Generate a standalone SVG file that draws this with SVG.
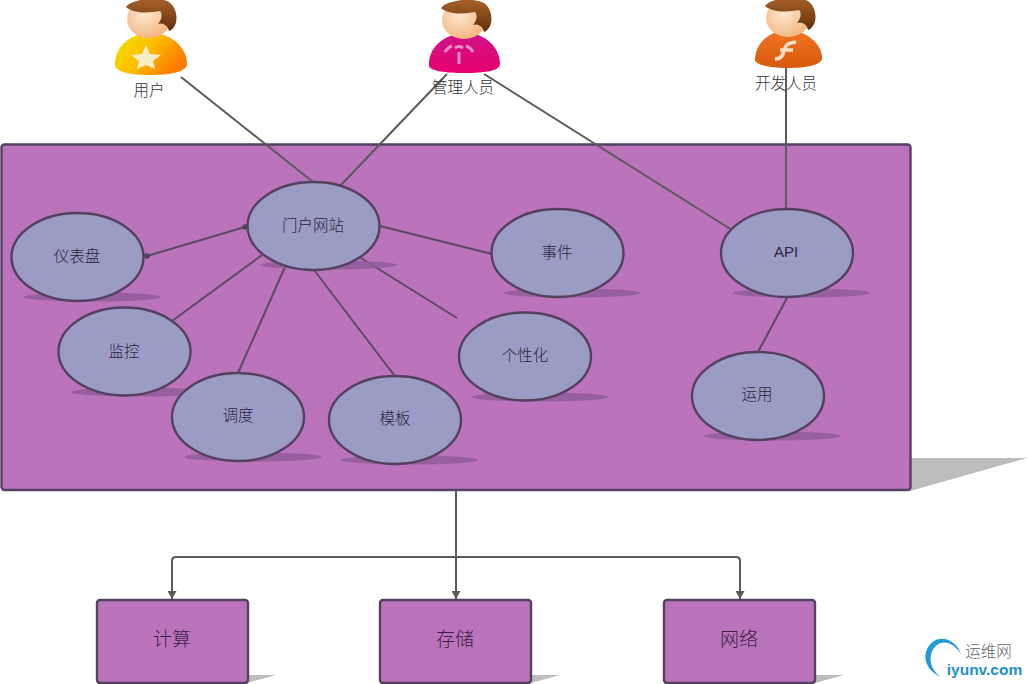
<svg xmlns="http://www.w3.org/2000/svg" xmlns:xlink="http://www.w3.org/1999/xlink" width="1028" height="684" viewBox="0 0 1028 684">
<style>
text{font-family:"Noto Sans CJK SC","Liberation Sans",sans-serif;text-anchor:middle;fill:#2b2440}
.n{fill:#9a9cc5;stroke:#54405f;stroke-width:2.4}
.s{fill:#8f5a97;opacity:.8}
.b{fill:#bb74bc;stroke:#54405f;stroke-width:2.4}
.gs{fill:#bdbdbd}
.l{fill:none;stroke:#5a4a62;stroke-width:2}
.o{fill:none;stroke:#5a5a5a;stroke-width:2}
.t14{font-size:15.500px;font-weight:300}
.p{font-size:15.500px;font-weight:300;fill:#333}
.t18{font-size:19px;font-weight:300;fill:#3a1f45}
</style>
<defs>
<radialGradient id="skin" cx=".4" cy=".4" r=".7"><stop offset="0" stop-color="#fde6cc"/><stop offset="1" stop-color="#f2b07a"/></radialGradient>
<linearGradient id="hair" x1="0" y1="0" x2="0" y2="1"><stop offset="0" stop-color="#a8622a"/><stop offset="1" stop-color="#5f2f0c"/></linearGradient>
<linearGradient id="gu" x1="0" y1="0" x2="1" y2=".5"><stop offset="0" stop-color="#e6e600"/><stop offset=".5" stop-color="#ffc000"/><stop offset="1" stop-color="#fb7d00"/></linearGradient>
<linearGradient id="ga" x1="0" y1="0" x2="0" y2="1"><stop offset="0" stop-color="#cf1488"/><stop offset="1" stop-color="#e8006e"/></linearGradient>
<linearGradient id="gd" x1="0" y1="0" x2="0" y2="1"><stop offset="0" stop-color="#f0741f"/><stop offset="1" stop-color="#d85a10"/></linearGradient>
<g id="head">
<ellipse cx="0" cy="2" rx="22" ry="19" fill="url(#skin)"/>
<path d="M-23-10C-18-18 10-21 20-15C30-8 30 10 20 14C19 8 13 5 9 7C14 1 13-4 11-6C0-4-15-3-23-10Z" fill="url(#hair)"/>
</g>
<marker id="a" markerWidth="9" markerHeight="9" refX="8" refY="4.500" orient="auto" markerUnits="userSpaceOnUse"><path d="M0 0L8 4.500L0 9Z" fill="#5a5a5a"/></marker>
<marker id="d" markerWidth="6" markerHeight="6" refX="3" refY="3" markerUnits="userSpaceOnUse"><circle cx="3" cy="3" r="2.800" fill="#54405f"/></marker>
</defs>

<g id="platform">
<polygon class="gs" points="910,458 1027,458 910,491"/>
<rect class="b" x="1.500" y="144.500" width="909" height="345.500" rx="3"/>
</g>

<g id="connectors">
<path class="o" d="M181 77L313 182"/>
<path class="o" d="M447 74L340 186"/>
<path class="o" d="M484 74L732 230"/>
<path class="o" d="M786 68V209"/>
<path class="l" d="M147 256L245 227" marker-start="url(#d)" marker-end="url(#d)"/>
<path class="l" d="M262 255L172 321"/>
<path class="l" d="M285 267L238 373"/>
<path class="l" d="M314 270L394 375"/>
<path class="l" d="M361 258L457 318"/>
<path class="l" d="M380 226L492 254"/>
<path class="l" d="M787 298L758 352"/>
<path class="o" d="M456 490V599" marker-end="url(#a)"/>
<path class="o" d="M456 557H176Q172 557 172 561V599" marker-end="url(#a)"/>
<path class="o" d="M456 557H736Q740 557 740 561V599" marker-end="url(#a)"/>
</g>

<g id="user">
<path d="M115 66C114 48 128 34 150 33C172 33 187 48 187 64C187 72 170 75 150 75C130 75 117 72 115 66Z" fill="url(#gu)"/>
<path d="M146 45L150 54L161 55L153 61L155 69L146 65L137 69L139 61L131 55L142 54Z" fill="#f8efc8"/>
<use xlink:href="#head" href="#head" x="149" y="17"/>
<text class="p" x="149" y="96">用户</text>
</g>
<g id="admin">
<path d="M429 66C428 48 443 34 465 33C486 33 500 48 500 64C500 71 484 73 465 73C445 73 431 71 429 66Z" fill="url(#ga)"/>
<path d="M459 64V52M445 52Q448 47 452 46M473 52Q470 47 466 46M455 48Q459 45 463 48" fill="none" stroke="#f58cc8" stroke-width="3"/>
<use xlink:href="#head" href="#head" x="464" y="18"/>
<text class="p" x="463" y="93">管理人员</text>
</g>
<g id="dev">
<path d="M755 60C755 44 768 31 788 30C807 31 822 44 822 58C822 65 806 68 788 68C770 68 756 65 755 60Z" fill="url(#gd)"/>
<path d="M775 59Q783 59 784 50L786 46Q788 43 796 42M780 50H793" fill="none" stroke="#fbe0c8" stroke-width="3.500"/>
<use xlink:href="#head" href="#head" x="788" y="16"/>
<text class="p" x="786" y="89">开发人员</text>
</g>

<g id="n-dash"><ellipse class="s" cx="92.500" cy="297" rx="68.500" ry="4.500"/><ellipse class="n" cx="77.500" cy="257" rx="66" ry="44"/><text class="t14" x="77" y="262">仪表盘</text></g>
<g id="n-portal"><ellipse class="s" cx="328.500" cy="265" rx="68.500" ry="4.500"/><ellipse class="n" cx="313.500" cy="226" rx="66" ry="44"/><text class="t14" x="313" y="231">门户网站</text></g>
<g id="n-event"><ellipse class="s" cx="572" cy="293" rx="68.500" ry="4.500"/><ellipse class="n" cx="557.500" cy="253" rx="66" ry="44"/><text class="t14" x="557" y="258">事件</text></g>
<g id="n-api"><ellipse class="s" cx="801.500" cy="293" rx="68.500" ry="4.500"/><ellipse class="n" cx="787" cy="253" rx="66" ry="44"/><text x="786" y="257" style="font-family:'Liberation Sans',sans-serif;font-size:15px">API</text></g>
<g id="n-monitor"><ellipse class="s" cx="139" cy="392" rx="68.500" ry="4.500"/><ellipse class="n" cx="124.500" cy="351.500" rx="66" ry="44"/><text class="t14" x="124" y="357">监控</text></g>
<g id="n-sched"><ellipse class="s" cx="253" cy="457" rx="68.500" ry="4.500"/><ellipse class="n" cx="238" cy="417" rx="66" ry="44"/><text class="t14" x="238" y="421">调度</text></g>
<g id="n-tmpl"><ellipse class="s" cx="409.500" cy="460" rx="68.500" ry="4.500"/><ellipse class="n" cx="395" cy="420" rx="66" ry="44"/><text class="t14" x="395" y="424">模板</text></g>
<g id="n-custom"><ellipse class="s" cx="540" cy="397" rx="68.500" ry="4.500"/><ellipse class="n" cx="525" cy="356.500" rx="66" ry="44"/><text class="t14" x="525" y="361">个性化</text></g>
<g id="n-ops"><ellipse class="s" cx="772.500" cy="436" rx="68.500" ry="4.500"/><ellipse class="n" cx="758" cy="396" rx="66" ry="44"/><text class="t14" x="757" y="400">运用</text></g>

<g id="compute"><polygon class="gs" points="247,675 276,675 247,683"/><rect class="b" x="97" y="600" width="151" height="83" rx="3"/><text class="t18" x="172" y="646">计算</text></g>
<g id="storage"><polygon class="gs" points="531,675 560,675 531,683"/><rect class="b" x="380" y="600" width="151" height="83" rx="3"/><text class="t18" x="455" y="646">存储</text></g>
<g id="network"><polygon class="gs" points="815,675 844,675 815,683"/><rect class="b" x="664" y="600" width="151" height="83" rx="3"/><text class="t18" x="739" y="646">网络</text></g>

<g id="logo">
<path d="M961 654C957 642 944 635 934 641C922 649 921 668 941 677C929 669 927 653 937 645C946 639 955 645 961 654Z" fill="#1f9bd8"/>
<path d="M958 648C952 641 944 639 938 642C945 641 952 643 958 648Z" fill="#1f9bd8"/>
<text x="988.500" y="657" style="font-size:15.500px;font-weight:300;fill:#666">运维网</text>
<text x="984.500" y="674.500" style="font-family:'Liberation Sans',sans-serif;font-size:15.500px;font-weight:700;fill:#1f8fd0">iyunv.com</text>
</g>
</svg>
